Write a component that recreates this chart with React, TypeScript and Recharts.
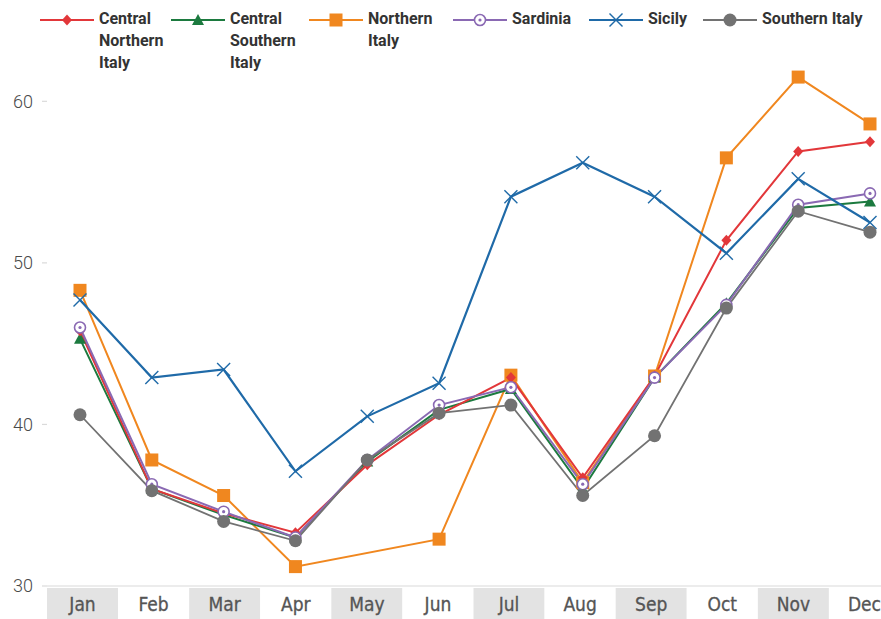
import React from "react";
import { LineChart, Line, XAxis, YAxis, CartesianGrid, Legend, ReferenceLine } from "recharts";

const months = ["Jan", "Feb", "Mar", "Apr", "May", "Jun", "Jul", "Aug", "Sep", "Oct", "Nov", "Dec"];

const centralNorthern = [45.8, 36.0, 34.5, 33.3, 37.5, 40.6, 42.9, 36.7, 43.0, 51.4, 56.9, 57.5];
const centralSouthern = [45.3, 36.0, 34.4, 33.0, 37.7, 40.9, 42.2, 36.0, 42.9, 47.5, 53.4, 53.8];
const northern = [48.3, 37.8, 35.6, 31.2, null, 32.9, 43.05, 36.4, 43.0, 56.5, 61.5, 58.6];
const sardinia = [46.0, 36.3, 34.6, 33.0, 37.8, 41.2, 42.3, 36.3, 42.9, 47.4, 53.6, 54.3];
const sicily = [47.7, 42.9, 43.4, 37.1, 40.5, 42.55, 54.1, 56.2, 54.1, 50.6, 55.2, 52.5];
const southern = [40.6, 35.9, 34.0, 32.8, 37.8, 40.7, 41.2, 35.6, 39.3, 47.2, 53.2, 51.9];

const seriesKeys = ["cn", "cs", "n", "sa", "si", "s"];
const seriesNames = ["Central Northern Italy", "Central Southern Italy", "Northern Italy", "Sardinia", "Sicily", "Southern Italy"];
const legendLabels = [["Central", "Northern", "Italy"], ["Central", "Southern", "Italy"], ["Northern", "Italy"], ["Sardinia"], ["Sicily"], ["Southern Italy"]];
const seriesColors = ["#e2373a", "#1c7a3f", "#f0871f", "#8a69b3", "#1f6aa8", "#727272"];
const seriesMarkers = ["diamond", "triangle", "square", "ringdot", "cross", "circle"];
const seriesValues = [centralNorthern, centralSouthern, northern, sardinia, sicily, southern];
const yTicks = [30, 40, 50, 60];

const data = months.map((m, i) => {
  const row: any = { month: m };
  seriesKeys.forEach((k, j) => {
    row[k] = seriesValues[j][i];
  });
  return row;
});

const drawOrder = [2, 1, 0, 3, 4, 5];
const legendLeft = [40, 171, 309, 453, 589, 703];
const strokeWidths = [2, 2, 2, 2, 2.2, 1.8];

const CHART_W = 900;
const CHART_H = 619;
const Y_W = 47;
const BAND_W = (CHART_W - Y_W) / 12;

function Marker({ kind, color, cx, cy }: any) {
  if (cx == null || cy == null) return null;
  switch (kind) {
    case "diamond":
      return <polygon points={`${cx},${cy - 5.5} ${cx + 5},${cy} ${cx},${cy + 5.5} ${cx - 5},${cy}`} fill={color} stroke="none" />;
    case "triangle":
      return <polygon points={`${cx},${cy - 6} ${cx + 6},${cy + 5} ${cx - 6},${cy + 5}`} fill={color} stroke="none" />;
    case "square":
      return <rect x={cx - 6.5} y={cy - 6.5} width={13} height={13} fill={color} stroke="none" />;
    case "ringdot":
      return (
        <g>
          <circle cx={cx} cy={cy} r={5.5} fill="#fff" stroke={color} strokeWidth={1.6} />
          <circle cx={cx} cy={cy} r={1.6} fill={color} />
        </g>
      );
    case "cross":
      return (
        <g stroke={color} strokeWidth={1.4}>
          <line x1={cx - 6.5} y1={cy - 6.5} x2={cx + 6.5} y2={cy + 6.5} />
          <line x1={cx - 6.5} y1={cy + 6.5} x2={cx + 6.5} y2={cy - 6.5} />
        </g>
      );
    default:
      return <circle cx={cx} cy={cy} r={6.5} fill={color} stroke="none" />;
  }
}

function MonthTick(props: any) {
  const { x, y, payload } = props;
  const idx = months.indexOf(payload.value);
  return (
    <g>
      <rect x={x - BAND_W / 2} y={y + 2} width={BAND_W} height={31} fill={idx % 2 === 0 ? "#e3e3e3" : "#ffffff"} />
      <text
        x={x}
        y={y + 25}
        textAnchor="middle"
        fill="#555555"
        fontSize={19}
        fontFamily="'Liberation Sans Narrow', 'DejaVu Sans Condensed', Roboto, sans-serif"
        stroke="#555555"
        strokeWidth={0.3}
      >
        {payload.value}
      </text>
    </g>
  );
}

function renderLegend() {
  return (
    <div style={{ position: "relative", width: 881, height: 69, fontFamily: "Roboto, sans-serif" }}>
      {seriesNames.map((name, i) => {
        const left = legendLeft[i];
        return (
          <div key={name} style={{ position: "absolute", left, top: 0 }}>
            <svg width={54} height={30} style={{ position: "absolute", left: 0, top: 5 }}>
              <line x1={0} y1={15} x2={54} y2={15} stroke={seriesColors[i]} strokeWidth={2} />
              <Marker kind={seriesMarkers[i]} color={seriesColors[i]} cx={27} cy={15} />
            </svg>
            <div
              style={{
                position: "absolute",
                left: 59,
                top: 8,
                fontSize: 16,
                fontWeight: 700,
                lineHeight: "22px",
                color: "#333",
                whiteSpace: "nowrap",
              }}
            >
              {legendLabels[i].map((l, k) => (
                <div key={k}>{l}</div>
              ))}
            </div>
          </div>
        );
      })}
    </div>
  );
}

function gridRows(props: any) {
  try {
    const scale = props.yAxis.scale;
    return yTicks.map((t) => scale(t));
  } catch (e) {
    return [];
  }
}

export default function App() {
  return (
    <div style={{ position: "absolute", left: 0, top: 0, width: 881, height: 619, overflow: "hidden", background: "#fff" }}>
      <LineChart width={CHART_W} height={CHART_H} data={data} margin={{ top: 0, right: 0, bottom: 0, left: 0 }}>
        <CartesianGrid
          xAxisId="bands"
          horizontal
          vertical={false}
          stroke="#dadada"
          strokeWidth={1.2}
          horizontalCoordinatesGenerator={gridRows}
        />
        <XAxis
          xAxisId="bands"
          dataKey="month"
          scale="band"
          axisLine={false}
          tickLine={false}
          tickSize={0}
          tickMargin={0}
          height={33}
          interval={0}
          tick={<MonthTick />}
        />
        <XAxis xAxisId="pts" dataKey="month" scale="point" hide padding={{ left: 33, right: 30 }} />
        <YAxis
          domain={[30, 62]}
          ticks={yTicks}
          width={Y_W}
          axisLine={false}
          tickLine={{ stroke: "#dadada", strokeWidth: 1.2 }}
          tickSize={5}
          tickMargin={9}
          tick={{ fill: "#4a4a4a", fontSize: 18, fontFamily: "Roboto, sans-serif", fontWeight: 300 }}
        />
        <ReferenceLine xAxisId="bands" y={30} stroke="#dadada" strokeWidth={1.2} />
        <Legend verticalAlign="top" content={renderLegend} wrapperStyle={{ top: 0, left: 0, width: 881, height: 69 }} />
        {drawOrder.map((i) => (
          <Line
            key={seriesKeys[i]}
            xAxisId="pts"
            type="linear"
            dataKey={seriesKeys[i]}
            name={seriesNames[i]}
            stroke={seriesColors[i]}
            strokeWidth={strokeWidths[i]}
            connectNulls
            isAnimationActive={false}
            dot={(p: any) => (
              <g key={`${seriesKeys[i]}-${p.index}`}>
                <Marker kind={seriesMarkers[i]} color={seriesColors[i]} cx={p.cx} cy={p.cy} />
              </g>
            )}
            activeDot={false}
          />
        ))}
      </LineChart>
    </div>
  );
}
